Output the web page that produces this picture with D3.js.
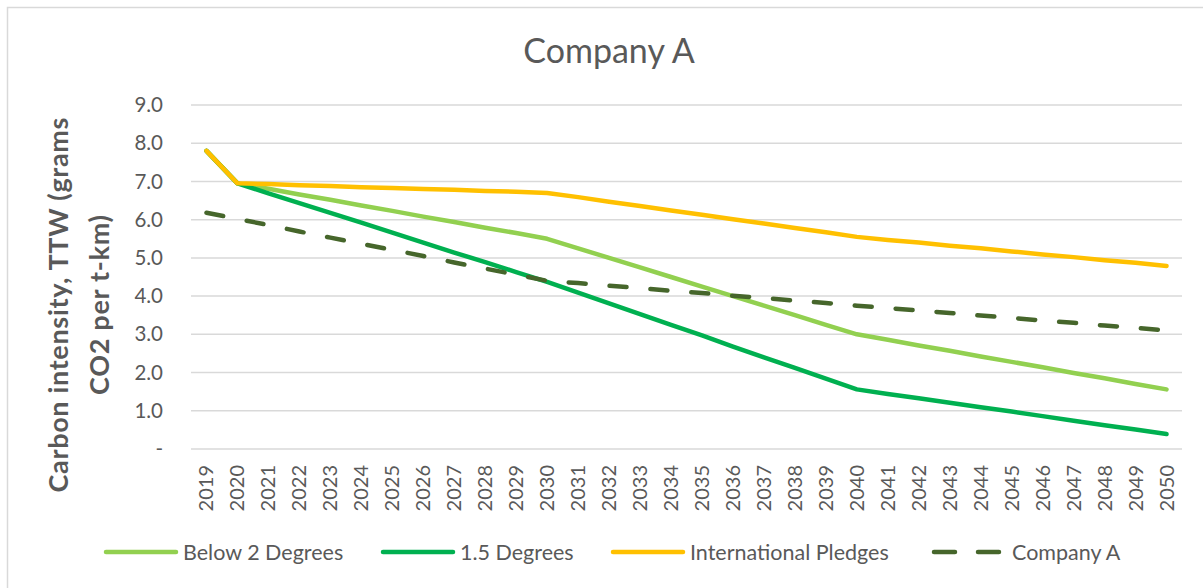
<!DOCTYPE html>
<html>
<head>
<meta charset="utf-8">
<script src="https://cdn.jsdelivr.net/npm/d3@7"></script>
<style>
  html, body { margin: 0; padding: 0; background: #ffffff; }
  svg { display: block; font-family: Lato, "Open Sans", sans-serif; }
</style>
</head>
<body>
<svg id="chart" width="1203" height="588"></svg>
<script>
// ---- data ----
const years = d3.range(2019, 2051);
const below2 = [7.80, 6.95, 6.81, 6.66, 6.52, 6.37, 6.23, 6.08, 5.94, 5.79, 5.65, 5.50,
  5.25, 5.00, 4.75, 4.50, 4.25, 4.00, 3.75, 3.50, 3.25, 3.00,
  2.86, 2.71, 2.57, 2.42, 2.28, 2.14, 1.99, 1.85, 1.70, 1.56];
const deg15 = [7.80, 6.95, 6.69, 6.43, 6.18, 5.92, 5.66, 5.40, 5.14, 4.89, 4.63, 4.37,
  4.09, 3.81, 3.53, 3.25, 2.97, 2.68, 2.40, 2.12, 1.84, 1.56,
  1.44, 1.33, 1.21, 1.09, 0.98, 0.86, 0.74, 0.62, 0.51, 0.39];
const pledges = [7.80, 6.95, 6.93, 6.90, 6.88, 6.85, 6.83, 6.80, 6.78, 6.75, 6.73, 6.70,
  6.59, 6.47, 6.36, 6.24, 6.13, 6.01, 5.90, 5.78, 5.67, 5.55,
  5.47, 5.40, 5.32, 5.25, 5.17, 5.09, 5.02, 4.94, 4.87, 4.79];
const companyA = [6.18, 6.02, 5.86, 5.69, 5.53, 5.37, 5.21, 5.05, 4.88, 4.72, 4.56, 4.40,
  4.34, 4.27, 4.21, 4.14, 4.08, 4.01, 3.95, 3.88, 3.82, 3.75,
  3.69, 3.62, 3.56, 3.49, 3.43, 3.36, 3.30, 3.23, 3.17, 3.10];
const yTicks = [0, 1, 2, 3, 4, 5, 6, 7, 8, 9];
const seriesNames = ["Below 2 Degrees", "1.5 Degrees", "International Pledges", "Company A"];
const titleText = "Company A";
const yTitleLines = ["Carbon intensity, TTW (grams", "CO2 per t-km)"];

// ---- styles ----
const series = [
  { name: seriesNames[0], values: below2,   color: "#92D050", dash: null },
  { name: seriesNames[1], values: deg15,    color: "#00B050", dash: null },
  { name: seriesNames[2], values: pledges,  color: "#FFC000", dash: null },
  { name: seriesNames[3], values: companyA, color: "#46662B", dash: "17,24" }
];
const textColor = "#595959";
const gridColor = "#D9D9D9";

const svg = d3.select("#chart");
const W = 1203, H = 588;
const plot = { left: 191, right: 1182, top: 105, bottom: 449 };

svg.append("rect").attr("x", 0).attr("y", 0).attr("width", W).attr("height", H).attr("fill", "#fff");
svg.append("rect").attr("x", 7.5).attr("y", 7.5).attr("width", 1300).attr("height", 700)
  .attr("fill", "none").attr("stroke", gridColor).attr("stroke-width", 1.5);

const x = d3.scaleBand().domain(years).range([plot.left, plot.right]);
const xc = d => x(d) + x.bandwidth() / 2;
const y = d3.scaleLinear().domain([0, 9]).range([plot.bottom, plot.top]);

// gridlines
svg.append("g").selectAll("line").data(yTicks).join("line")
  .attr("x1", plot.left).attr("x2", plot.right)
  .attr("y1", d => y(d)).attr("y2", d => y(d))
  .attr("stroke", gridColor).attr("stroke-width", 1.5);

// y axis
const yAxis = svg.append("g").attr("transform", `translate(${plot.left},0)`)
  .call(d3.axisLeft(y).tickValues(yTicks).tickSize(0).tickPadding(28)
    .tickFormat(d => d === 0 ? "-" : d3.format(".1f")(d)));
yAxis.select(".domain").remove();
yAxis.selectAll("text").attr("fill", textColor).style("font-size", "20.5px")
  .style("font-family", "Lato, sans-serif");

// x axis labels
const xAxis = svg.append("g").attr("transform", `translate(0,${plot.bottom})`)
  .call(d3.axisBottom(x).tickSize(0).tickFormat(d3.format("d")));
xAxis.select(".domain").remove();
xAxis.selectAll("text")
  .attr("fill", textColor).style("font-size", "20px").style("font-family", "Lato, sans-serif")
  .attr("text-anchor", "end")
  .attr("transform", "translate(0,16) rotate(-90)")
  .attr("x", 0).attr("y", 0).attr("dy", "0.35em");

// lines
const line = d3.line().x((d, i) => xc(years[i])).y(d => y(d));
svg.append("g").selectAll("path").data(series).join("path")
  .attr("d", d => line(d.values))
  .attr("fill", "none")
  .attr("stroke", d => d.color)
  .attr("stroke-width", 4.5)
  .attr("stroke-linejoin", "round")
  .attr("stroke-linecap", "round")
  .attr("stroke-dasharray", d => d.dash);

// title
svg.append("text").attr("x", 609).attr("y", 63).attr("text-anchor", "middle")
  .attr("fill", textColor).style("font-size", "34px").text(titleText);

// y title
const yt = svg.append("text").attr("transform", "translate(0,305) rotate(-90)")
  .attr("text-anchor", "middle").attr("fill", textColor)
  .style("font-size", "27px").style("font-weight", "bold");
yt.append("tspan").attr("x", 0).attr("y", 68)
  .attr("textLength", 375).attr("lengthAdjust", "spacing").text(yTitleLines[0]);
yt.append("tspan").attr("x", 0).attr("y", 109)
  .attr("textLength", 180).attr("lengthAdjust", "spacing").text(yTitleLines[1]);

// legend
const legendX = [106, 383, 613, 932];
const lg = svg.append("g").selectAll("g").data(series).join("g")
  .attr("transform", (d, i) => `translate(${legendX[i]},552)`);
lg.append("line").attr("x1", 0).attr("x2", d => d.dash ? 67 : 70).attr("y1", 0).attr("y2", 0)
  .attr("stroke", d => d.color).attr("stroke-width", 4.5).attr("stroke-linecap", "round")
  .attr("stroke-dasharray", d => d.dash ? "21,23" : null)
  .attr("transform", d => d.dash ? "translate(2,0)" : null);
lg.append("text").attr("x", (d, i) => i === 3 ? 80 : 77).attr("y", 0).attr("dy", "0.35em")
  .attr("fill", textColor).style("font-size", "21.5px").text(d => d.name);
</script>
</body>
</html>
